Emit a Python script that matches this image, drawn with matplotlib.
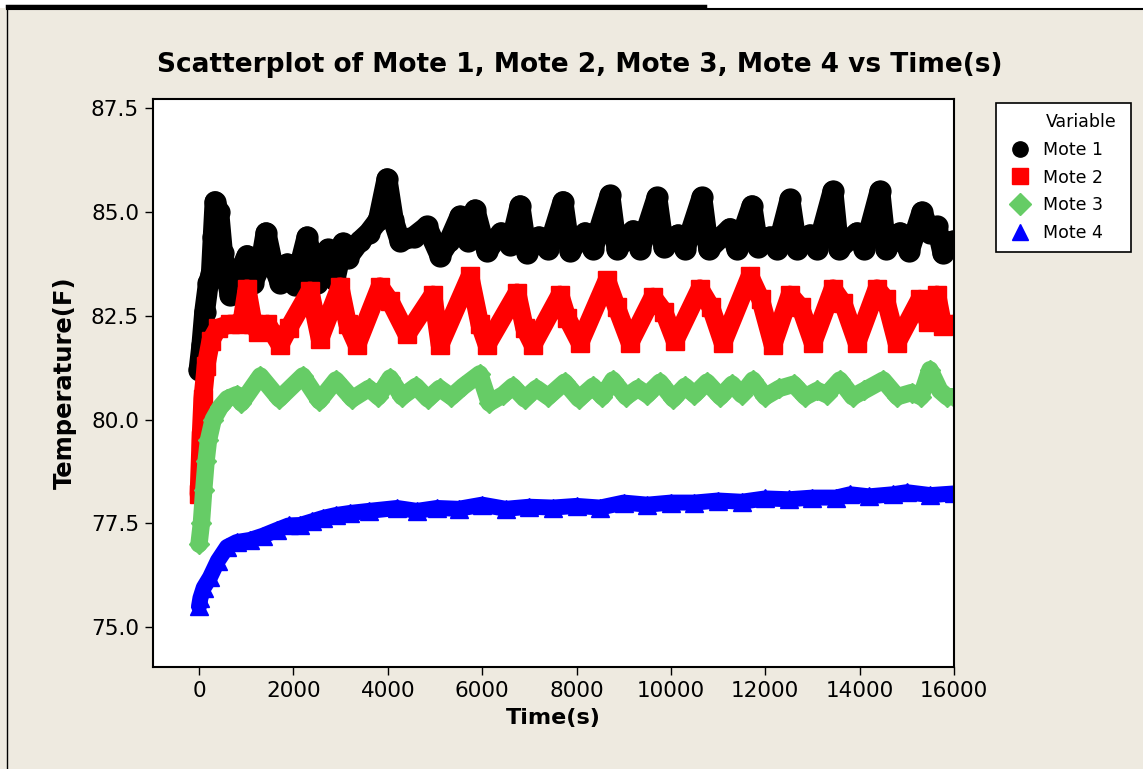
import matplotlib
matplotlib.use("Agg")
import matplotlib.pyplot as plt
from matplotlib.lines import Line2D
from matplotlib.patches import Rectangle

# Mote 1 (black circles)
t1 = [0, 60, 120, 200, 260, 300, 339, 420, 500, 657, 800, 1017, 1144, 1300,
      1420, 1550, 1716, 1870, 2034, 2289, 2500, 2733, 2880, 3051, 3150, 3411,
      3600, 3800, 3984, 4120, 4260, 4550, 4831, 5107, 5300, 5531, 5700, 5849,
      6000, 6103, 6400, 6600, 6802, 6950, 7200, 7400, 7713, 7862, 8179, 8350,
      8709, 8857, 9197, 9350, 9705, 9850, 10150, 10300, 10658, 10800, 11252,
      11400, 11718, 11850, 12100, 12250, 12523, 12680, 12947, 13100, 13435,
      13560, 13943, 14100, 14430, 14560, 14854, 15050, 15320, 15500, 15638,
      15765, 15980]
mote1 = [81.2, 81.8, 82.6, 83.3, 83.5, 84.4, 85.25, 85.0, 84.0, 83.0, 83.4,
         83.95, 83.3, 83.7, 84.5, 83.8, 83.3, 83.75, 83.25, 84.4, 83.3, 84.1,
         83.35, 84.25, 83.9, 84.3, 84.5, 84.8, 85.8, 84.8, 84.3, 84.4, 84.65,
         83.95, 84.3, 84.9, 84.3, 85.05, 84.4, 84.05, 84.5, 84.2, 85.15, 84.0,
         84.4, 84.1, 85.25, 84.05, 84.5, 84.1, 85.4, 84.1, 84.55, 84.1, 85.35,
         84.15, 84.45, 84.1, 85.35, 84.1, 84.6, 84.1, 85.15, 84.15, 84.4, 84.1,
         85.3, 84.1, 84.45, 84.1, 85.5, 84.1, 84.5, 84.1, 85.5, 84.1, 84.5,
         84.05, 85.0, 84.5, 84.65, 84.0, 84.3]

# Mote 2 (red squares)
t2 = [0, 40, 80, 150, 250, 400, 650, 900, 1017, 1150, 1250, 1450, 1716, 1900,
      2352, 2564, 2988, 3150, 3348, 3835, 4050, 4407, 4958, 5107, 5742, 5950,
      6103, 6739, 6900, 7077, 7650, 7800, 8073, 8645, 8850, 9133, 9620, 9850,
      10087, 10616, 10850, 11103, 11676, 11900, 12163, 12523, 12750, 13011,
      13435, 13650, 13943, 14367, 14550, 14790, 15278, 15450, 15638, 15765,
      16000]
mote2 = [78.2, 79.5, 80.5, 81.3, 81.9, 82.2, 82.3, 82.3, 83.15, 82.3, 82.1,
         82.3, 81.8, 82.2, 83.1, 81.95, 83.2, 82.3, 81.8, 83.2, 82.85, 82.05,
         83.0, 81.8, 83.45, 82.3, 81.8, 83.05, 82.2, 81.8, 83.0, 82.45, 81.85,
         83.35, 82.7, 81.85, 82.95, 82.6, 81.9, 83.15, 82.7, 81.85, 83.45, 82.9,
         81.8, 83.0, 82.7, 81.85, 83.15, 82.8, 81.85, 83.15, 82.9, 81.85, 82.9,
         82.35, 83.0, 82.25, 82.3]

# Mote 3 (green diamonds)
t3 = [0, 50, 100, 150, 200, 300, 450, 600, 800, 900, 1300, 1700, 2200, 2550,
      2900, 3250, 3600, 3800, 4050, 4300, 4600, 4850, 5100, 5350, 5600, 5950,
      6150, 6450, 6650, 6900, 7150, 7400, 7750, 8050, 8350, 8550, 8770, 9050,
      9300, 9500, 9770, 10050, 10300, 10500, 10765, 11050, 11300, 11500, 11740,
      12000, 12300, 12600, 12850, 13100, 13300, 13580, 13850, 14100, 14500,
      14800, 15100, 15300, 15490, 15700, 15850, 16000]
mote3 = [77.0, 77.5, 78.3, 79.0, 79.5, 80.0, 80.3, 80.5, 80.6, 80.4, 81.05,
         80.5, 81.05, 80.45, 80.95, 80.5, 80.75, 80.55, 81.0, 80.55, 80.8, 80.5,
         80.75, 80.55, 80.8, 81.1, 80.4, 80.6, 80.8, 80.5, 80.75, 80.55, 80.9,
         80.5, 80.8, 80.55, 80.95, 80.55, 80.75, 80.6, 80.9, 80.5, 80.8, 80.6,
         80.9, 80.55, 80.85, 80.6, 80.95, 80.55, 80.75, 80.85, 80.55, 80.7,
         80.6, 80.95, 80.55, 80.7, 80.95, 80.55, 80.65, 80.55, 81.2, 80.7,
         80.55, 80.55]

# Mote 4 (blue triangles)
t4 = [0, 30, 100, 233, 400, 593, 800, 1080, 1350, 1653, 1900, 2140, 2400,
      2628, 2900, 3200, 3600, 4196, 4620, 5043, 5500, 6000, 6500, 7000, 7500,
      8000, 8500, 9000, 9500, 10000, 10500, 11000, 11500, 12000, 12500, 13000,
      13500, 13800, 14200, 14700, 15000, 15500, 16000]
mote4 = [75.5, 75.7, 75.95, 76.2, 76.6, 76.93, 77.05, 77.1, 77.2, 77.34, 77.45,
         77.46, 77.55, 77.63, 77.7, 77.75, 77.8, 77.87, 77.8, 77.87, 77.85,
         77.95, 77.85, 77.9, 77.88, 77.92, 77.88, 78.0, 77.95, 78.0, 78.0,
         78.05, 78.02, 78.1, 78.08, 78.12, 78.12, 78.2, 78.15, 78.2, 78.25,
         78.18, 78.22]

labels = ["Mote 1", "Mote 2", "Mote 3", "Mote 4"]
colors = ["#000000", "#FF0000", "#66CC66", "#0000FF"]
markers = ["o", "s", "D", "^"]
xticks = [0, 2000, 4000, 6000, 8000, 10000, 12000, 14000, 16000]
yticks = [75.0, 77.5, 80.0, 82.5, 85.0, 87.5]

bg = "#EEEAE0"
fig = plt.figure(figsize=(11.43, 7.69), dpi=100, facecolor=bg)
W, H = 1143, 769

# white strip of the page above the graph, with the heading underline and frame
fig.patches.append(Rectangle((0, 1 - 8 / H), 1, 8 / H, transform=fig.transFigure,
                             facecolor="white", edgecolor="none", zorder=0))
fig.add_artist(Line2D([7 / W, 705 / W], [1 - 6 / H, 1 - 6 / H], color="black",
                      lw=2.5, transform=fig.transFigure))
fig.add_artist(Line2D([7 / W, 1], [1 - 8.5 / H, 1 - 8.5 / H], color="black",
                      lw=1.5, transform=fig.transFigure))
fig.add_artist(Line2D([7 / W, 7 / W], [0, 1 - 8 / H], color="black",
                      lw=1.0, transform=fig.transFigure))

ax = fig.add_axes([153 / W, 1 - 667 / H, (954 - 153) / W, (667 - 99) / H])
ax.set_facecolor("white")

series = [(t1, mote1), (t2, mote2), (t3, mote3), (t4, mote4)]
lws = [15, 13.5, 12.5, 11.5]
msizes = [15, 13, 10.5, 13]
for (t, v), c, m, lw, ms in zip(series, colors, markers, lws, msizes):
    ax.plot(t, v, color=c, lw=lw, solid_joinstyle="round", solid_capstyle="round")
    ax.plot(t, v, ls="none", marker=m, ms=ms, color=c, mec=c)

ax.set_xlim(-975, 16000)
ax.set_ylim(74.04, 87.72)
ax.set_xticks(xticks)
ax.set_yticks(yticks)
ax.set_yticklabels([f"{y:.1f}" for y in yticks])
ax.tick_params(direction="out", length=6, width=1, labelsize=15.5, pad=4)
for s in ax.spines.values():
    s.set_linewidth(1.5)

ax.set_xlabel("Time(s)", fontsize=16, fontweight="bold", labelpad=5)
ax.set_ylabel("Temperature(F)", fontsize=17.5, fontweight="bold", labelpad=10)

fig.text(580 / W, 1 - 65 / H,
         "Scatterplot of Mote 1, Mote 2, Mote 3, Mote 4 vs Time(s)",
         ha="center", va="center", fontsize=19, fontweight="bold")

handles = [Line2D([], [], ls="none", marker=m, color=c, mec=c, ms=11)
           for m, c in zip(markers, colors)]
leg = fig.legend(handles, labels, title="Variable", loc="upper left",
                 bbox_to_anchor=(996 / W, 1 - 250 / H, 135 / W, 147 / H),
                 mode="expand", borderaxespad=0,
                 fontsize=12.5, title_fontsize=12.5, frameon=True,
                 fancybox=False, edgecolor="black", framealpha=1,
                 borderpad=0.6, handletextpad=0.5, labelspacing=0.55,
                 handlelength=1.6)
leg.get_frame().set_linewidth(1.2)
leg.get_title().set_position((18, 0))

fig.savefig("out.png", dpi=100, facecolor=bg)
